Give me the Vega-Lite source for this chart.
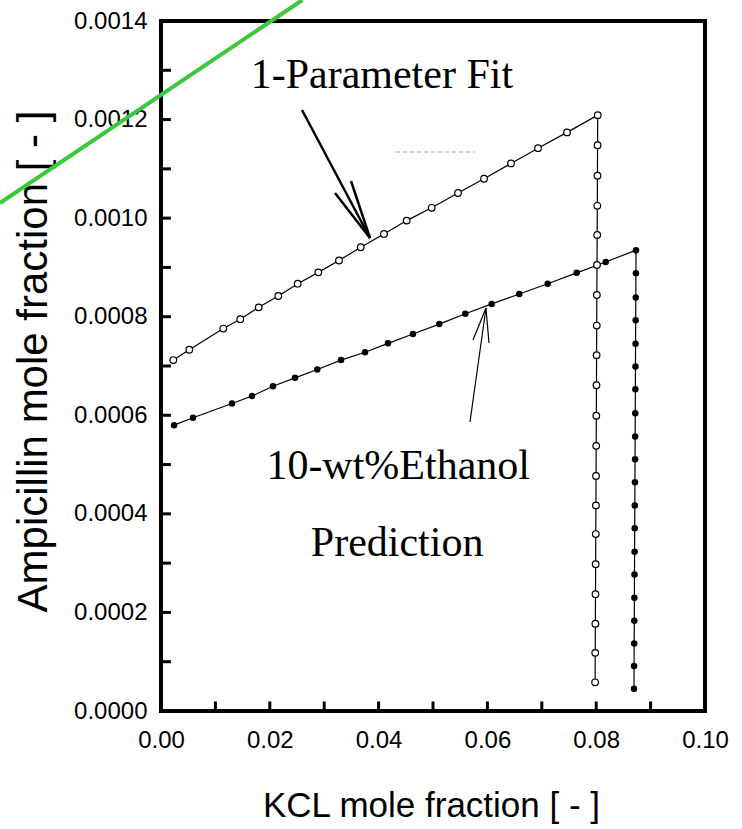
{
  "$schema": "https://vega.github.io/schema/vega-lite/v6.json",
  "width": 544,
  "height": 690,
  "autosize": "none",
  "padding": {"left": 161, "top": 21, "right": 37, "bottom": 118},
  "background": "white",
  "config": {
    "view": {"stroke": "black", "strokeWidth": 4},
    "axis": {"grid": false, "domain": false, "ticks": false}
  },
  "datasets": {
    "pts": [
      {"series": "fit", "ord": 1, "kcl": 0.00226, "amp": 0.000712},
      {"series": "fit", "ord": 2, "kcl": 0.00520, "amp": 0.000733},
      {"series": "fit", "ord": 3, "kcl": 0.01145, "amp": 0.000776},
      {"series": "fit", "ord": 4, "kcl": 0.01458, "amp": 0.000795},
      {"series": "fit", "ord": 5, "kcl": 0.01796, "amp": 0.000819},
      {"series": "fit", "ord": 6, "kcl": 0.02156, "amp": 0.000842},
      {"series": "fit", "ord": 7, "kcl": 0.02513, "amp": 0.000867},
      {"series": "fit", "ord": 8, "kcl": 0.02892, "amp": 0.000890},
      {"series": "fit", "ord": 9, "kcl": 0.03272, "amp": 0.000914},
      {"series": "fit", "ord": 10, "kcl": 0.03671, "amp": 0.000941},
      {"series": "fit", "ord": 11, "kcl": 0.04099, "amp": 0.000968},
      {"series": "fit", "ord": 12, "kcl": 0.04516, "amp": 0.000995},
      {"series": "fit", "ord": 13, "kcl": 0.04976, "amp": 0.001021},
      {"series": "fit", "ord": 14, "kcl": 0.05460, "amp": 0.001051},
      {"series": "fit", "ord": 15, "kcl": 0.05938, "amp": 0.001080},
      {"series": "fit", "ord": 16, "kcl": 0.06434, "amp": 0.001111},
      {"series": "fit", "ord": 17, "kcl": 0.06930, "amp": 0.001142},
      {"series": "fit", "ord": 18, "kcl": 0.07463, "amp": 0.001174},
      {"series": "fit", "ord": 19, "kcl": 0.08028, "amp": 0.001209},
      {"series": "fit", "ord": 20, "kcl": 0.08025, "amp": 0.001148},
      {"series": "fit", "ord": 21, "kcl": 0.08023, "amp": 0.001086},
      {"series": "fit", "ord": 22, "kcl": 0.08020, "amp": 0.001025},
      {"series": "fit", "ord": 23, "kcl": 0.08018, "amp": 0.000966},
      {"series": "fit", "ord": 24, "kcl": 0.08015, "amp": 0.000905},
      {"series": "fit", "ord": 25, "kcl": 0.08012, "amp": 0.000844},
      {"series": "fit", "ord": 26, "kcl": 0.08010, "amp": 0.000782},
      {"series": "fit", "ord": 27, "kcl": 0.08007, "amp": 0.000722},
      {"series": "fit", "ord": 28, "kcl": 0.08005, "amp": 0.000661},
      {"series": "fit", "ord": 29, "kcl": 0.08002, "amp": 0.000599},
      {"series": "fit", "ord": 30, "kcl": 0.08000, "amp": 0.000538},
      {"series": "fit", "ord": 31, "kcl": 0.07997, "amp": 0.000477},
      {"series": "fit", "ord": 32, "kcl": 0.07995, "amp": 0.000417},
      {"series": "fit", "ord": 33, "kcl": 0.07992, "amp": 0.000359},
      {"series": "fit", "ord": 34, "kcl": 0.07990, "amp": 0.000298},
      {"series": "fit", "ord": 35, "kcl": 0.07987, "amp": 0.000237},
      {"series": "fit", "ord": 36, "kcl": 0.07985, "amp": 0.000177},
      {"series": "fit", "ord": 37, "kcl": 0.07982, "amp": 0.000118},
      {"series": "fit", "ord": 38, "kcl": 0.07980, "amp": 0.0000582},
      {"series": "pred", "ord": 1, "kcl": 0.00239, "amp": 0.000580},
      {"series": "pred", "ord": 2, "kcl": 0.00588, "amp": 0.000595},
      {"series": "pred", "ord": 3, "kcl": 0.01305, "amp": 0.000624},
      {"series": "pred", "ord": 4, "kcl": 0.01673, "amp": 0.000639},
      {"series": "pred", "ord": 5, "kcl": 0.02059, "amp": 0.000659},
      {"series": "pred", "ord": 6, "kcl": 0.02463, "amp": 0.000676},
      {"series": "pred", "ord": 7, "kcl": 0.02873, "amp": 0.000693},
      {"series": "pred", "ord": 8, "kcl": 0.03309, "amp": 0.000712},
      {"series": "pred", "ord": 9, "kcl": 0.03750, "amp": 0.000728},
      {"series": "pred", "ord": 10, "kcl": 0.04173, "amp": 0.000746},
      {"series": "pred", "ord": 11, "kcl": 0.04632, "amp": 0.000765},
      {"series": "pred", "ord": 12, "kcl": 0.05116, "amp": 0.000785},
      {"series": "pred", "ord": 13, "kcl": 0.05594, "amp": 0.000806},
      {"series": "pred", "ord": 14, "kcl": 0.06079, "amp": 0.000826},
      {"series": "pred", "ord": 15, "kcl": 0.06586, "amp": 0.000846},
      {"series": "pred", "ord": 16, "kcl": 0.07108, "amp": 0.000867},
      {"series": "pred", "ord": 17, "kcl": 0.07642, "amp": 0.000889},
      {"series": "pred", "ord": 18, "kcl": 0.08175, "amp": 0.000911},
      {"series": "pred", "ord": 19, "kcl": 0.08732, "amp": 0.000935},
      {"series": "pred", "ord": 20, "kcl": 0.08730, "amp": 0.000888},
      {"series": "pred", "ord": 21, "kcl": 0.08728, "amp": 0.000839},
      {"series": "pred", "ord": 22, "kcl": 0.08726, "amp": 0.000793},
      {"series": "pred", "ord": 23, "kcl": 0.08724, "amp": 0.000745},
      {"series": "pred", "ord": 24, "kcl": 0.08722, "amp": 0.000699},
      {"series": "pred", "ord": 25, "kcl": 0.08720, "amp": 0.000653},
      {"series": "pred", "ord": 26, "kcl": 0.08718, "amp": 0.000604},
      {"series": "pred", "ord": 27, "kcl": 0.08716, "amp": 0.000557},
      {"series": "pred", "ord": 28, "kcl": 0.08714, "amp": 0.000511},
      {"series": "pred", "ord": 29, "kcl": 0.08712, "amp": 0.000464},
      {"series": "pred", "ord": 30, "kcl": 0.08710, "amp": 0.000417},
      {"series": "pred", "ord": 31, "kcl": 0.08708, "amp": 0.000371},
      {"series": "pred", "ord": 32, "kcl": 0.08706, "amp": 0.000323},
      {"series": "pred", "ord": 33, "kcl": 0.08704, "amp": 0.000277},
      {"series": "pred", "ord": 34, "kcl": 0.08702, "amp": 0.000230},
      {"series": "pred", "ord": 35, "kcl": 0.08700, "amp": 0.000183},
      {"series": "pred", "ord": 36, "kcl": 0.08698, "amp": 0.000137},
      {"series": "pred", "ord": 37, "kcl": 0.08696, "amp": 0.0000913},
      {"series": "pred", "ord": 38, "kcl": 0.08695, "amp": 0.0000452}
    ],
    "xticks": [
      {"v": 0.01}, {"v": 0.02}, {"v": 0.03}, {"v": 0.04}, {"v": 0.05},
      {"v": 0.06}, {"v": 0.07}, {"v": 0.08}, {"v": 0.09}
    ],
    "yticks": [
      {"v": 0.0001}, {"v": 0.0002}, {"v": 0.0003}, {"v": 0.0004}, {"v": 0.0005},
      {"v": 0.0006}, {"v": 0.0007}, {"v": 0.0008}, {"v": 0.0009}, {"v": 0.001},
      {"v": 0.0011}, {"v": 0.0012}, {"v": 0.0013}
    ],
    "thickArrow": [
      {"x1": 0.02592, "y1": 0.0012194, "x2": 0.03842, "y2": 0.0009597},
      {"x1": 0.03199, "y1": 0.0010510, "x2": 0.03842, "y2": 0.0009597},
      {"x1": 0.03493, "y1": 0.0010754, "x2": 0.03842, "y2": 0.0009597}
    ],
    "thinArrow": [
      {"x1": 0.05680, "y1": 0.0005864, "x2": 0.05974, "y2": 0.0008177},
      {"x1": 0.05735, "y1": 0.0007528, "x2": 0.05974, "y2": 0.0008177},
      {"x1": 0.06029, "y1": 0.0007467, "x2": 0.05974, "y2": 0.0008177}
    ],
    "greenLine": [
      {"x1": -0.02960, "y1": 0.0010307, "x2": 0.02600, "y2": 0.0014426}
    ],
    "grayDash": [
      {"x1": 0.04320, "y1": 0.0011342, "x2": 0.05772, "y2": 0.0011342}
    ],
    "labels": [
      {"x": 0.0406, "y": 0.001264, "text": "1-Parameter Fit"},
      {"x": 0.0436, "y": 0.000470, "text": "10-wt%Ethanol"},
      {"x": 0.0434, "y": 0.0003145, "text": "Prediction"}
    ]
  },
  "layer": [
    {
      "data": {"name": "pts"},
      "mark": {"type": "line", "color": "black", "strokeWidth": 1.2},
      "encoding": {
        "x": {
          "field": "kcl", "type": "quantitative",
          "scale": {"domain": [0, 0.1], "nice": false, "zero": false},
          "axis": {
            "values": [0, 0.02, 0.04, 0.06, 0.08, 0.1],
            "format": ".2f",
            "labelPadding": 17,
            "labelFont": "Liberation Sans, Arial, sans-serif",
            "labelFontSize": 24, "labelColor": "black",
            "labelFlush": false,
            "title": "KCL mole fraction [ - ]",
            "titleFont": "Liberation Sans, Arial, sans-serif",
            "titleFontSize": 35, "titleFontWeight": "normal", "titleColor": "black",
            "titleX": 270, "titleY": 94, "titleBaseline": "middle", "titleAlign": "center"
          }
        },
        "y": {
          "field": "amp", "type": "quantitative",
          "scale": {"domain": [0, 0.0014], "nice": false, "zero": false},
          "axis": {
            "values": [0, 0.0002, 0.0004, 0.0006, 0.0008, 0.001, 0.0012, 0.0014],
            "format": ".4f",
            "labelPadding": 14,
            "labelFont": "Liberation Sans, Arial, sans-serif",
            "labelFontSize": 24, "labelColor": "black",
            "labelFlush": false,
            "title": "Ampicillin mole fraction [ - ]",
            "titleFont": "Liberation Sans, Arial, sans-serif",
            "titleFontSize": 42, "titleFontWeight": "normal", "titleColor": "black",
            "titleAngle": -90, "titleX": -128, "titleY": 340, "titleBaseline": "middle", "titleAlign": "center"
          }
        },
        "detail": {"field": "series"},
        "order": {"field": "ord", "type": "quantitative"}
      }
    },
    {
      "data": {"name": "xticks"},
      "mark": {"type": "tick", "orient": "vertical", "color": "black", "size": 10, "thickness": 3, "opacity": 1},
      "encoding": {
        "x": {"field": "v", "type": "quantitative"},
        "y": {"datum": 0.0000092}
      }
    },
    {
      "data": {"name": "yticks"},
      "mark": {"type": "tick", "orient": "horizontal", "color": "black", "size": 10, "thickness": 3, "opacity": 1},
      "encoding": {
        "y": {"field": "v", "type": "quantitative"},
        "x": {"datum": 0.0009}
      }
    },
    {
      "data": {"name": "pts"},
      "transform": [{"filter": "datum.series == 'fit'"}],
      "mark": {"type": "point", "shape": "circle", "filled": false, "fill": "white", "stroke": "black", "strokeWidth": 1.2, "size": 44, "opacity": 1},
      "encoding": {
        "x": {"field": "kcl", "type": "quantitative"},
        "y": {"field": "amp", "type": "quantitative"}
      }
    },
    {
      "data": {"name": "pts"},
      "transform": [{"filter": "datum.series == 'pred'"}],
      "mark": {"type": "point", "shape": "circle", "filled": true, "color": "black", "size": 42, "opacity": 1},
      "encoding": {
        "x": {"field": "kcl", "type": "quantitative"},
        "y": {"field": "amp", "type": "quantitative"}
      }
    },
    {
      "data": {"name": "thickArrow"},
      "mark": {"type": "rule", "color": "black", "strokeWidth": 2.5},
      "encoding": {
        "x": {"field": "x1", "type": "quantitative"},
        "y": {"field": "y1", "type": "quantitative"},
        "x2": {"field": "x2"},
        "y2": {"field": "y2"}
      }
    },
    {
      "data": {"name": "thinArrow"},
      "mark": {"type": "rule", "color": "black", "strokeWidth": 1.2},
      "encoding": {
        "x": {"field": "x1", "type": "quantitative"},
        "y": {"field": "y1", "type": "quantitative"},
        "x2": {"field": "x2"},
        "y2": {"field": "y2"}
      }
    },
    {
      "data": {"name": "grayDash"},
      "mark": {"type": "rule", "color": "#c8c8c8", "strokeWidth": 1.5, "strokeDash": [4, 3]},
      "encoding": {
        "x": {"field": "x1", "type": "quantitative"},
        "y": {"field": "y1", "type": "quantitative"},
        "x2": {"field": "x2"},
        "y2": {"field": "y2"}
      }
    },
    {
      "data": {"name": "greenLine"},
      "mark": {"type": "rule", "color": "#3cc83c", "strokeWidth": 4, "clip": false},
      "encoding": {
        "x": {"field": "x1", "type": "quantitative"},
        "y": {"field": "y1", "type": "quantitative"},
        "x2": {"field": "x2"},
        "y2": {"field": "y2"}
      }
    },
    {
      "data": {"name": "labels"},
      "mark": {"type": "text", "font": "Liberation Serif, Times New Roman, serif", "fontSize": 42, "color": "black", "align": "center", "baseline": "alphabetic"},
      "encoding": {
        "x": {"field": "x", "type": "quantitative"},
        "y": {"field": "y", "type": "quantitative"},
        "text": {"field": "text"}
      }
    }
  ]
}
